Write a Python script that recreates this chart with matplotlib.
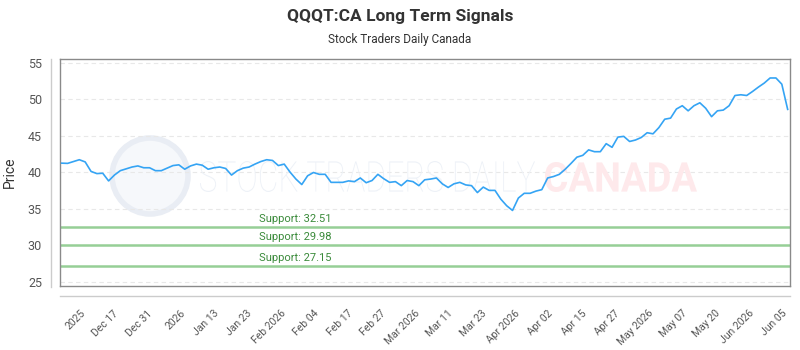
import numpy as np
import matplotlib
matplotlib.use("Agg")
import matplotlib.pyplot as plt
from matplotlib.lines import Line2D
from matplotlib.patches import Circle, PathPatch
from matplotlib.textpath import TextPath
from matplotlib.font_manager import FontProperties
from matplotlib.transforms import Affine2D, blended_transform_factory

plt.rcParams['font.family'] = ['Roboto', 'DejaVu Sans']

# price series
prices = [
    41.23, 41.2, 41.45, 41.7, 41.4, 40.1, 39.8, 39.85, 38.8, 39.6,
    40.2, 40.45, 40.7, 40.85, 40.6, 40.6, 40.2, 40.2, 40.55, 40.9,
    41.0, 40.4, 40.85, 41.1, 40.95, 40.4, 40.6, 40.7, 40.5, 39.6,
    40.2, 40.55, 40.7, 41.1, 41.45, 41.7, 41.6, 40.9, 41.1, 40.0,
    39.05, 38.3, 39.5, 39.95, 39.7, 39.7, 38.6, 38.6, 38.6, 38.8,
    38.7, 39.2, 38.55, 38.85, 39.7, 39.1, 38.6, 38.7, 38.15, 38.85,
    38.7, 38.15, 38.95, 39.05, 39.2, 38.4, 37.9, 38.4, 38.6, 38.25,
    38.15, 37.2, 37.95, 37.5, 37.5, 36.3, 35.4, 34.75, 36.45, 37.1,
    37.1, 37.4, 37.6, 39.2, 39.4, 39.7, 40.4, 41.2, 42.05, 42.3,
    43.05, 42.8, 42.8, 43.9, 43.4, 44.8, 44.9, 44.2, 44.4, 44.75,
    45.4, 45.25, 46.1, 47.25, 47.4, 48.65, 49.1, 48.4, 49.1, 49.5,
    48.75, 47.6, 48.4, 48.5, 49.1, 50.5, 50.6, 50.5, 51.05, 51.65,
    52.2, 52.9, 52.9, 52.05, 48.6,
]

tick_labels = ["2025", "Dec 17", "Dec 31", "2026", "Jan 13", "Jan 23",
               "Feb 2026", "Feb 04", "Feb 17", "Feb 27", "Mar 2026", "Mar 11",
               "Mar 23", "Apr 2026", "Apr 02", "Apr 15", "Apr 27", "May 2026",
               "May 07", "May 20", "Jun 2026", "Jun 05"]

support_levels = [32.51, 29.98, 27.15]

title = "QQQT:CA Long Term Signals"
subtitle = "Stock Traders Daily Canada"

fig = plt.figure(figsize=(8, 3.5), dpi=100)
ax = fig.add_axes([60 / 800, 64 / 350, 730 / 800, 227 / 350])

x = np.arange(len(prices))
ax.plot(x, prices, color='#35a4f4', lw=1.2, zorder=3)

# support lines + labels
trans = blended_transform_factory(ax.transAxes, ax.transData)
for lvl in support_levels:
    ax.axhline(lvl, color='#96cf96', lw=1.8, zorder=2)
    ax.text(0.322, lvl + 0.45, f"Support: {lvl:.2f}", transform=trans,
            ha='center', va='bottom', fontsize=8, color='#3a8a3a', zorder=4)

ax.set_xlim(-0.3, len(prices) - 0.6)
ax.set_ylim(24.4, 55.5)
ax.set_yticks(np.arange(25, 56, 5))
ax.grid(axis='y', color='#e8e8e8', lw=0.8, ls=(0, (4, 3)))
ax.set_axisbelow(True)

ticks = np.linspace(3.1, len(prices) - 2, len(tick_labels))
ax.set_xticks(ticks)
ax.set_xticklabels(tick_labels, rotation=45, ha='right', rotation_mode='anchor')
ax.tick_params(axis='x', length=0, pad=16, labelsize=7.5, labelcolor='#555555')
ax.tick_params(axis='y', length=0, pad=13, labelsize=9, labelcolor='#555555')
ax.set_ylabel("Price", fontsize=10, color='#333333')
ax.yaxis.set_label_coords(-0.059, 0.5)
for s in ax.spines.values():
    s.set_color('#8a8a8a')
    s.set_linewidth(1.0)

# outer axis lines
fig.add_artist(Line2D([51 / 800, 51 / 800], [63 / 350, 291 / 350], color='#cccccc', lw=1))
fig.add_artist(Line2D([60 / 800, 790 / 800], [54 / 350, 54 / 350], color='#cccccc', lw=1))

# watermark (display pixel coords, dpi 100)
circ = Circle((150, 350 - 176), 38, transform=Affine2D(), facecolor='#f6f8fb',
              edgecolor='#e9edf4', lw=4, zorder=0.5)
ax.add_patch(circ)


def wm_text(s, x0, x1, ytop, cap, color, weight='normal'):
    tp = TextPath((0, 0), s, size=1, prop=FontProperties(family='Roboto', weight=weight))
    ext = tp.get_extents()
    sx = (x1 - x0) / ext.width
    sy = cap / ext.height
    tr = Affine2D().translate(-ext.x0, -ext.y0).scale(sx, sy).translate(x0, 350 - ytop - cap)
    ax.add_patch(PathPatch(tp, transform=tr, facecolor=color, edgecolor='none', zorder=0.6))


wm_text("STOCK TRADERS DAILY", 200, 535, 161, 31, '#edf1f7', weight='light')
wm_text("CANADA", 545, 697, 162, 30, '#fee9eb', weight='bold')

fig.text(0.5, 1 - 16 / 350, title, ha='center', va='center', fontsize=12.5,
         fontweight='bold', color='#333333')
fig.text(0.5, 1 - 39 / 350, subtitle, ha='center', va='center', fontsize=8.5,
         color='#333333')

fig.savefig("out.png", dpi=100)
